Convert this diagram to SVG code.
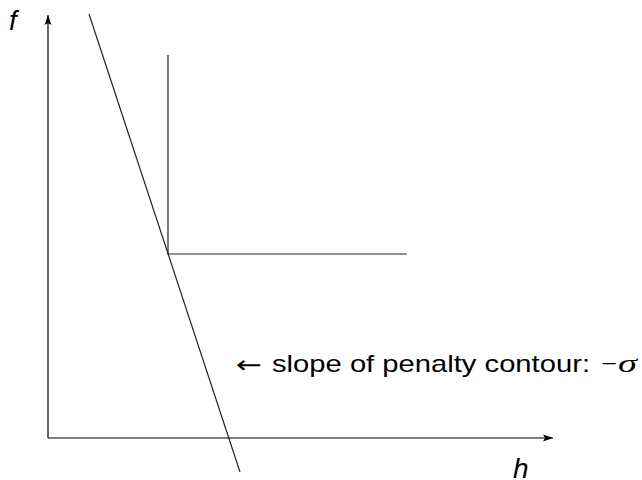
<svg xmlns="http://www.w3.org/2000/svg" width="642" height="480" viewBox="0 0 642 480">
<defs>
<marker id="ah" markerWidth="10" markerHeight="8" refX="10" refY="4" orient="auto" markerUnits="userSpaceOnUse">
<path d="M0,0.5 L10,4 L0,7.5 L2,4 Z" fill="#000"/>
</marker>
<style>
.ln{stroke:#222;stroke-width:1.2;fill:none}
.ax{stroke:#000;stroke-width:1.2;fill:none}
.t{font-family:"Liberation Sans",Arial,sans-serif;font-size:24px;fill:#000}
.l{font-size:28px}
.i{font-style:italic}
.m{font-family:"Liberation Serif","DejaVu Serif",serif;font-size:25px;fill:#000}
</style>
</defs>
<rect width="642" height="480" fill="#fff"/>
<g id="connectors">
<line class="ax" x1="48" y1="438" x2="48" y2="15" marker-end="url(#ah)"/>
<line class="ax" x1="48" y1="438" x2="553" y2="438" marker-end="url(#ah)"/>
<line class="ln" x1="89" y1="14" x2="240" y2="472"/>
<polyline class="ln" points="168,55 168,254 407,254"/>
</g>
<g id="labels">
<text class="t l i" x="9" y="30">f</text>
<text class="t l i" x="513" y="478">h</text>
<text x="236" y="373" font-family="'DejaVu Sans',sans-serif" font-size="24" textLength="26" lengthAdjust="spacingAndGlyphs">←</text>
<text class="t" x="272" y="372" textLength="318" lengthAdjust="spacingAndGlyphs">slope of penalty contour:</text>
<text class="m" x="601" y="372" textLength="16" lengthAdjust="spacingAndGlyphs">−</text>
<text class="m i" x="618" y="372" textLength="19" lengthAdjust="spacingAndGlyphs">σ</text>
</g>
</svg>
